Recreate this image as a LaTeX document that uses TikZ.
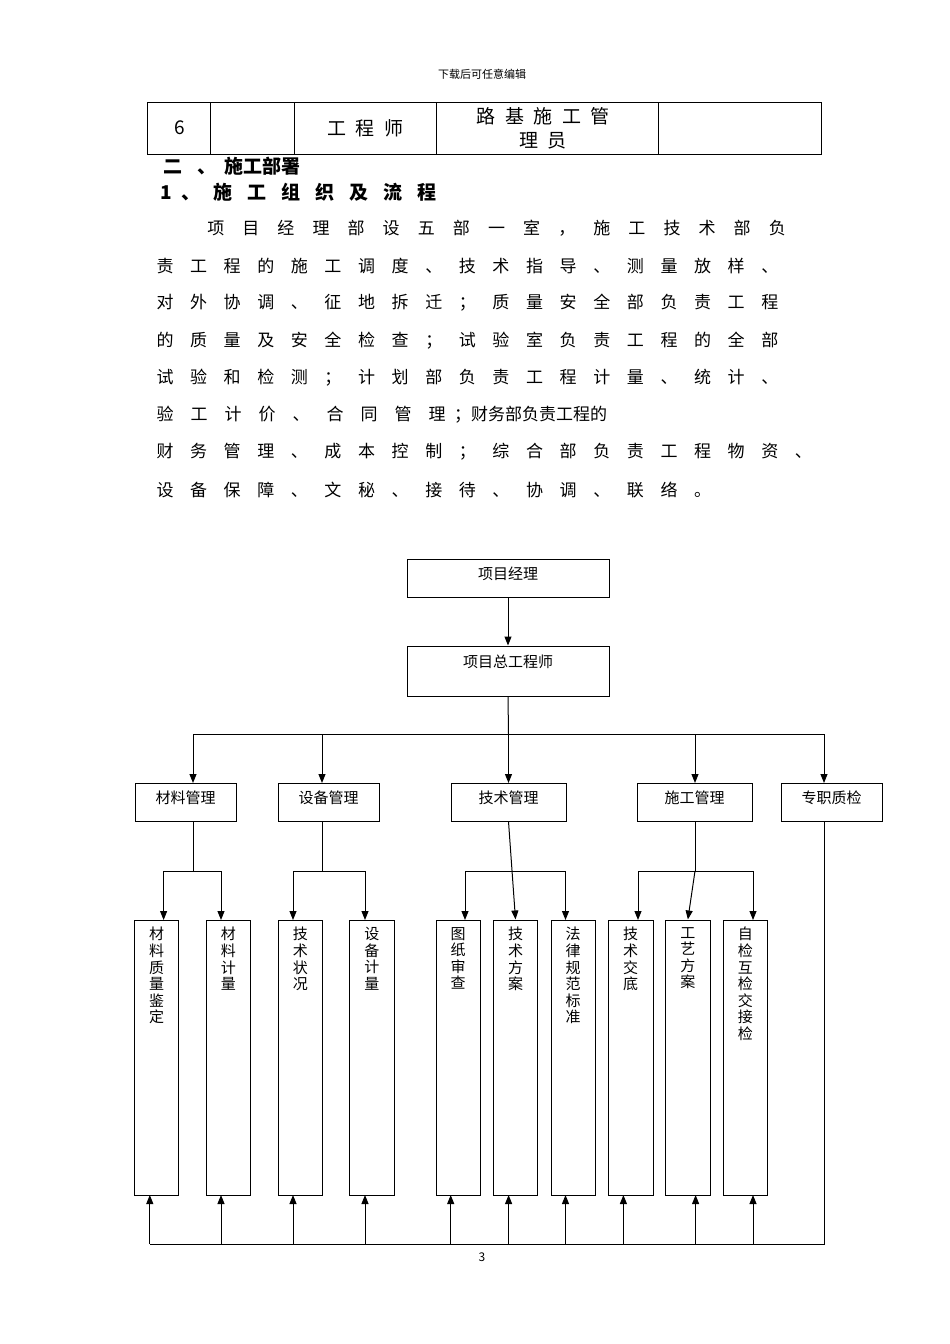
\documentclass[tikz,border=0pt]{standalone}
\usepackage{fontspec}
\setmainfont{Noto Sans CJK SC}
\usetikzlibrary{arrows.meta}
\newcommand\spc[1]{\ifx#1\relax\else\makebox[\myw][c]{#1}\expandafter\spc\fi}
\newdimen\myw
\begin{document}
\begin{tikzpicture}[x=1pt,y=-1pt,
  bx/.style={draw,line width=1pt,inner sep=0pt},
  ln/.style={line width=1pt},
  ar/.style={line width=1pt,-{Triangle[length=9pt,width=7pt]}},
  tb/.style={line width=0.8pt},
  para/.style={anchor=west,inner sep=0pt,font=\fontsize{17}{17}\selectfont},
  lbl/.style={font=\fontsize{15}{15}\selectfont,inner sep=0pt},
  vt/.style={font=\fontsize{15}{16.6}\selectfont,inner sep=0pt,align=center,anchor=north}]
\useasboundingbox (0,0) rectangle (950,1344);
\fill[white] (0,0) rectangle (950,1344);
\node[font=\fontsize{11}{11}\selectfont] (hdr) at (482,74) {下载后可任意编辑};
% table
\draw[tb] (147,102) rectangle (821,154);
\foreach \x in {210,294,436,658} \draw[tb] (\x,102) -- (\x,154);
\node[font=\fontsize{19}{19}\selectfont\rmfamily] (t6) at (180,128) {6};
\node[font=\fontsize{19}{19}\selectfont] (t1) at (365,128) {工\hspace{0.5em}程\hspace{0.5em}师};
\node[font=\fontsize{19}{19}\selectfont] (t2) at (543,116) {路\hspace{0.5em}基\hspace{0.5em}施\hspace{0.5em}工\hspace{0.5em}管};
\node[font=\fontsize{19}{19}\selectfont] (t3) at (543,141) {理\hspace{0.5em}员};
% headings
\myw=34pt
\node[para,font=\fontsize{19}{19}\selectfont\bfseries] (h1) at (156,166) {\spc 二、{}施工部署\relax};
\node[para,font=\fontsize{19}{19}\selectfont\bfseries] (h2) at (156,192) {\makebox[20pt][c]{1}\makebox[30pt][c]{、}\spc 施工组织及流程\relax};
% paragraph
\myw=35.1pt
\node[para] (p1) at (198,228) {\spc 项目经理部设五部一室，施工技术部负\relax};
\myw=33.6pt
\node[para] (p2) at (148,266) {\spc 责工程的施工调度、技术指导、测量放样、\relax};
\node[para] (p3) at (148,303) {\spc 对外协调、征地拆迁；质量安全部负责工程\relax};
\node[para] (p4) at (148,341) {\spc 的质量及安全检查；试验室负责工程的全部\relax};
\node[para] (p5) at (148,378) {\spc 试验和检测；计划部负责工程计量、统计、\relax};
\myw=34pt
\node[para] (p6) at (148,415) {\spc 验工计价、合同管理{}；财务部负责工程的\relax};
\myw=33.6pt
\node[para] (p7) at (148,452) {\spc 财务管理、成本控制；综合部负责工程物资、\relax};
\node[para] (p8) at (148,490) {\spc 设备保障、文秘、接待、协调、联络。\relax};
% top boxes
\node[bx,minimum width=202pt,minimum height=38pt] (pm) at (508,578) {};
\node[lbl] (pmt) at (508,574) {项目经理};
\node[bx,minimum width=202pt,minimum height=50pt] (ce) at (508,671) {};
\node[lbl] (cet) at (508,662) {项目总工程师};
\draw[ar] (pm.south) -- (ce.north);
% level 2
\node[bx,minimum width=101pt,minimum height=38pt] (m1) at (185.5,802) {};
\node[bx,minimum width=101pt,minimum height=38pt] (m2) at (328.5,802) {};
\node[bx,minimum width=115pt,minimum height=38pt] (m3) at (508.5,802) {};
\node[bx,minimum width=115pt,minimum height=38pt] (m4) at (694.5,802) {};
\node[bx,minimum width=101pt,minimum height=38pt] (m5) at (831.5,802) {};
\node[lbl] at (185.5,798) {材料管理};
\node[lbl] at (328.5,798) {设备管理};
\node[lbl] at (508.5,798) {技术管理};
\node[lbl] at (694.5,798) {施工管理};
\node[lbl] at (831.5,798) {专职质检};
\coordinate (bus) at (508.5,734);
\draw[ln] (ce.south) -- (bus);
\draw[ln] (193,734) -- (824,734);
\foreach \x in {193,322,508.5,695,824} \draw[ar] (\x,734) -- (\x,783);
% leaves
\foreach \n/\l/\r/\t in {l1/134.6/178.7/材\\料\\质\\量\\鉴\\定, l2/206.3/250.4/材\\料\\计\\量, l3/278.4/322.5/技\\术\\状\\况, l4/349.6/394.2/设\\备\\计\\量, l5/436/480/图\\纸\\审\\查, l6/493.5/537.5/技\\术\\方\\案, l7/551/595/法\\律\\规\\范\\标\\准, l8/608/653/技\\术\\交\\底, l9/665.7/710/工\\艺\\方\\案, l10/723/767.7/自\\检\\互\\检\\交\\接\\检}{
  \node[bx,minimum width={\r-\l},minimum height=275pt] (\n) at ({(\l+\r)/2},1057.5) {};
  \node[vt] at ({(\l+\r)/2},927) {\t};
}
% group connectors
\draw[ln] (193,821) -- (193,871); \draw[ln] (163.6,871) -- (221,871);
\draw[ln] (322,821) -- (322,871); \draw[ln] (293,871) -- (365,871);
\draw[ln] (465,871) -- (565.5,871);
\draw[ln] (695,821) -- (695,871); \draw[ln] (638,871) -- (753,871);
\foreach \x/\n in {163.6/l1,221/l2,293/l3,365/l4,465/l5,565.5/l7,638/l8,753/l10} \draw[ar] (\x,871) -- (\x,920);
\draw[ar] (m3.south) -- (l6.north);
\draw[ar] (695,871) -- (l9.north);
% feedback
\draw[ln] (824,821) -- (824,1244) -- (149.8,1244);
\foreach \x in {149.8,221,293,365,450.7,508.6,565.5,623.4,695.6,753} \draw[ar] (\x,1244) -- (\x,1195);
\node[font=\fontsize{12}{12}\selectfont\rmfamily] (pg) at (482,1257) {3};
\end{tikzpicture}
\end{document}
